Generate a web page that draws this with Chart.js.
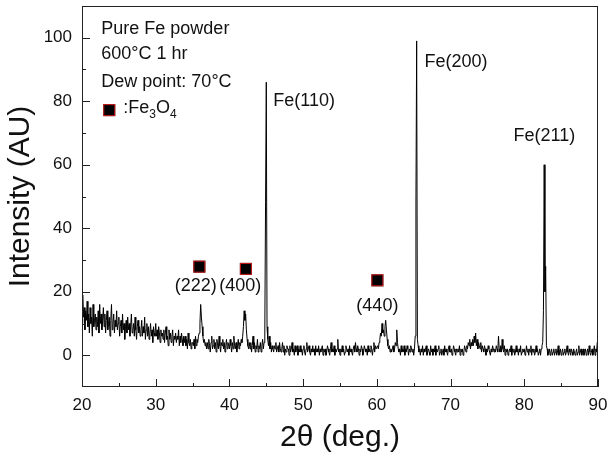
<!DOCTYPE html>
<html>
<head>
<meta charset="utf-8">
<script src="https://cdn.jsdelivr.net/npm/chart.js@4/dist/chart.umd.min.js"></script>
<style>
  html, body { margin: 0; padding: 0; background: #fff; }
  #wrap { width: 608px; height: 457px; }
</style>
</head>
<body>
<div id="wrap"><canvas id="xrd" width="608" height="457"></canvas></div>
<script>
// scan: 2theta from 20 to 90 deg, step 0.1 deg (one row = one degree)
const scanStart = 20;
const scanStep = 0.1;
const intensity = [
  10, 19, 12, 15, 8, 14, 11, 17, 9, 13,   // 20
  7, 15, 10, 12, 6, 16, 9, 11, 13, 8,
  12, 9, 14, 7, 16, 10, 13, 8, 11, 15,
  9, 13, 7, 11, 14, 8, 10, 12, 6, 11,
  16, 8, 10, 13, 7, 11, 9, 14, 8, 10,
  12, 6, 9, 11, 7, 13, 8, 10, 5, 9,       // 25
  11, 7, 12, 8, 10, 6, 9, 13, 7, 8,
  10, 6, 12, 8, 5, 9, 11, 7, 9, 6,
  8, 11, 6, 9, 7, 12, 5, 8, 10, 6,
  9, 5, 7, 10, 6, 8, 4, 9, 7, 6,
  10, 6, 8, 5, 9, 7, 4, 8, 6, 7,          // 30
  5, 8, 4, 7, 9, 5, 6, 3, 8, 5,
  7, 4, 6, 8, 3, 6, 5, 7, 4, 6,
  5, 8, 3, 6, 4, 7, 5, 3, 6, 4,
  6, 3, 5, 2, 7, 4, 3, 5, 2, 4,
  4, 3, 5, 2, 6, 3, 5, 4, 6, 7,           // 35
  10, 16, 12, 9, 6, 4, 5, 3, 4, 2,
  4, 2, 5, 3, 1, 4, 6, 2, 3, 5,
  2, 4, 1, 5, 3, 2, 6, 3, 1, 4,
  3, 5, 2, 4, 1, 3, 5, 2, 4, 3,
  2, 5, 3, 1, 4, 2, 6, 3, 2, 4,           // 40
  1, 3, 5, 2, 4, 3, 5, 4, 6, 9,
  14, 11, 13, 8, 5, 3, 2, 4, 2, 4,
  1, 3, 6, 2, 4, 1, 3, 2, 5, 1,
  3, 2, 4, 1, 3, 5, 2, 4, 7, 48,
  86, 9, 5, 3, 6, 2, 4, 1, 3, 2,          // 45
  1, 3, 2, 4, 1, 2, 3, 1, 4, 2,
  1, 2, 4, 1, 3, 0, 2, 1, 3, 2,
  2, 0, 3, 1, 2, 4, 1, 2, 0, 3,
  1, 2, 3, 0, 2, 1, 3, 1, 2, 0,
  2, 3, 1, 0, 2, 4, 1, 2, 3, 1,           // 50
  0, 2, 1, 3, 1, 2, 0, 3, 1, 2,
  1, 3, 0, 2, 1, 2, 3, 0, 2, 1,
  2, 0, 1, 3, 2, 1, 0, 2, 4, 1,
  2, 1, 3, 0, 2, 1, 2, 5, 1, 2,
  0, 2, 1, 3, 1, 2, 0, 1, 3, 2,           // 55
  1, 2, 0, 3, 1, 2, 1, 0, 2, 3,
  1, 4, 2, 1, 3, 2, 0, 2, 1, 3,
  2, 0, 1, 3, 2, 1, 2, 0, 3, 1,
  2, 1, 3, 2, 0, 2, 4, 1, 3, 2,
  2, 3, 2, 4, 5, 7, 6, 10, 7, 8,          // 60
  6, 9, 11, 8, 5, 3, 2, 3, 1, 2,
  1, 2, 3, 1, 2, 4, 3, 8, 4, 2,
  1, 2, 0, 3, 1, 2, 1, 3, 0, 2,
  1, 3, 2, 0, 2, 1, 3, 2, 1, 2,
  0, 2, 6, 48, 99, 5, 3, 1, 2, 0,         // 65
  2, 1, 3, 0, 2, 1, 2, 3, 0, 1,
  2, 1, 0, 3, 1, 2, 0, 2, 1, 3,
  0, 2, 1, 2, 3, 0, 1, 2, 0, 1,
  2, 0, 3, 1, 2, 1, 0, 2, 3, 1,
  1, 2, 0, 1, 3, 2, 1, 0, 2, 1,           // 70
  2, 1, 3, 0, 2, 1, 2, 0, 1, 3,
  2, 1, 3, 2, 4, 3, 5, 2, 4, 3,
  5, 3, 6, 4, 7, 3, 5, 2, 4, 3,
  2, 4, 1, 3, 2, 1, 3, 2, 0, 2,
  1, 3, 2, 1, 0, 2, 1, 3, 2, 1,           // 75
  2, 1, 3, 2, 1, 6, 2, 1, 3, 1,
  5, 2, 1, 3, 0, 2, 1, 2, 0, 1,
  2, 1, 3, 0, 2, 1, 2, 0, 1, 3,
  1, 2, 0, 2, 1, 3, 0, 1, 2, 1,
  2, 0, 1, 3, 1, 2, 0, 2, 1, 3,           // 80
  0, 2, 1, 2, 0, 1, 3, 1, 2, 0,
  1, 2, 0, 2, 3, 4, 14, 60, 20, 28,
  3, 2, 0, 1, 2, 0, 1, 2, 0, 1,
  2, 0, 1, 2, 0, 1, 3, 0, 1, 2,
  0, 1, 2, 0, 1, 2, 0, 1, 3, 1,           // 85
  0, 2, 1, 0, 2, 1, 0, 2, 1, 0,
  1, 2, 0, 1, 3, 0, 1, 2, 0, 1,
  2, 0, 1, 2, 0, 1, 2, 0, 3, 1,
  0, 1, 2, 0, 1, 3, 0, 2, 1, 4,
  3                                       // 90
];

const xTicks = [20, 30, 40, 50, 60, 70, 80, 90];
const yTicks = [0, 20, 40, 60, 80, 100];

const feLabels = ['Fe(110)', 'Fe(200)', 'Fe(211)'];
const oxideLabels = ['(222)', '(400)', '(440)'];
const notes = ['Pure Fe powder', '600°C 1 hr', 'Dew point: 70°C'];

// where the texts sit, in data units
const feLabelPos = [[45.95, 80.1], [66.45, 92.4], [78.53, 68.9]];
const oxideMarkPos = [[35.92, 27.9], [42.23, 27.2], [60.07, 23.6]];
const oxideLabelPos = [[35.44, 21.9], [41.48, 21.9], [60.07, 15.4]];

const FONT = "'Liberation Sans', Arial, sans-serif";

const points = intensity.map((v, i) => ({ x: +(scanStart + i * scanStep).toFixed(1), y: v }));

function drawSquare(ctx, cx, cy) {
  ctx.fillStyle = '#000';
  ctx.fillRect(cx - 6, cy - 6, 12, 12);
  ctx.strokeStyle = '#d21a1a';
  ctx.lineWidth = 1;
  ctx.strokeRect(cx - 5.5, cy - 5.5, 11, 11);
}

const framePlugin = {
  id: 'frame',
  afterDraw(chart) {
    const { ctx, chartArea: a, scales: { x, y } } = chart;
    ctx.save();
    ctx.strokeStyle = '#222';
    ctx.lineWidth = 1;
    ctx.strokeRect(Math.round(a.left) + 0.5, Math.round(a.top) + 0.5,
      Math.round(a.right - a.left) - 1, Math.round(a.bottom - a.top) - 1);

    // inward ticks
    ctx.beginPath();
    for (let v = 20; v <= 90; v += 5) {
      const px = Math.round(x.getPixelForValue(v)) + 0.5;
      const len = v % 10 === 0 ? 8 : 4;
      ctx.moveTo(px, a.bottom);
      ctx.lineTo(px, a.bottom - len);
    }
    for (let v = 0; v <= 100; v += 10) {
      const py = Math.round(y.getPixelForValue(v)) + 0.5;
      const len = v % 20 === 0 ? 8 : 4;
      ctx.moveTo(a.left, py);
      ctx.lineTo(a.left + len, py);
    }
    ctx.stroke();

    // texts
    ctx.fillStyle = '#111';
    ctx.font = '18px ' + FONT;
    ctx.textBaseline = 'middle';
    ctx.textAlign = 'left';
    const noteY = [102.8, 94.9, 86.1];
    notes.forEach((t, i) => {
      ctx.fillText(t, x.getPixelForValue(22.62), y.getPixelForValue(noteY[i]));
    });

    // legend for Fe3O4
    drawSquare(ctx, x.getPixelForValue(23.7), y.getPixelForValue(77.2));
    ctx.fillStyle = '#111';
    let tx = x.getPixelForValue(25.6);
    const ty = y.getPixelForValue(77.9);
    const parts = [[':Fe', 0], ['3', 1], ['O', 0], ['4', 1]];
    parts.forEach(([s, sub]) => {
      ctx.font = (sub ? '12px ' : '18px ') + FONT;
      ctx.fillText(s, tx, sub ? ty + 7 : ty);
      tx += ctx.measureText(s).width;
    });

    ctx.font = '18px ' + FONT;
    feLabels.forEach((t, i) => {
      ctx.fillText(t, x.getPixelForValue(feLabelPos[i][0]), y.getPixelForValue(feLabelPos[i][1]));
    });

    ctx.textAlign = 'center';
    oxideLabels.forEach((t, i) => {
      drawSquare(ctx, x.getPixelForValue(oxideMarkPos[i][0]), y.getPixelForValue(oxideMarkPos[i][1]));
      ctx.fillStyle = '#111';
      ctx.fillText(t, x.getPixelForValue(oxideLabelPos[i][0]), y.getPixelForValue(oxideLabelPos[i][1]));
    });
    ctx.restore();
  }
};

new Chart(document.getElementById('xrd'), {
  type: 'line',
  data: {
    datasets: [{
      data: points,
      borderColor: '#000',
      borderWidth: 1,
      pointRadius: 0,
      tension: 0,
      fill: false
    }]
  },
  options: {
    responsive: false,
    animation: false,
    layout: { padding: { top: 6, right: 10, left: 0, bottom: 0 } },
    plugins: { legend: { display: false }, tooltip: { enabled: false } },
    scales: {
      x: {
        type: 'linear',
        min: 20,
        max: 90,
        grid: { display: false, drawTicks: false },
        border: { display: false },
        afterBuildTicks(scale) { scale.ticks = xTicks.map(v => ({ value: v })); },
        afterFit(scale) { scale.height = 70; scale.paddingLeft = 0; scale.paddingRight = 0; },
        ticks: { padding: 8, color: '#111', font: { family: FONT, size: 17 } },
        title: {
          display: true,
          text: '2θ (deg.)',
          color: '#111',
          font: { family: FONT, size: 30 },
          padding: { top: 0, bottom: 1 }
        }
      },
      y: {
        min: -10,
        max: 110,
        grid: { display: false, drawTicks: false },
        border: { display: false },
        afterBuildTicks(scale) { scale.ticks = yTicks.map(v => ({ value: v })); },
        afterFit(scale) { scale.width = 82; scale.paddingTop = 0; scale.paddingBottom = 0; },
        ticks: { padding: 10, color: '#111', font: { family: FONT, size: 17 } },
        title: {
          display: true,
          text: 'Intensity (AU)',
          color: '#111',
          font: { family: FONT, size: 30 },
          padding: { top: 3, bottom: 0 }
        }
      }
    }
  },
  plugins: [framePlugin]
});
</script>
</body>
</html>
